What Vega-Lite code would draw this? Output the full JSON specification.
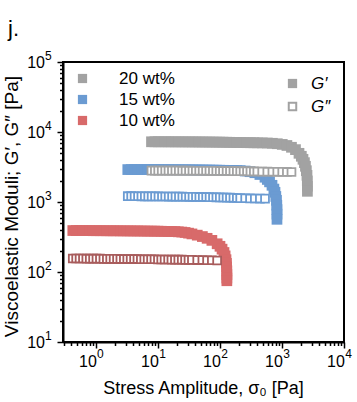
{
  "$schema": "https://vega.github.io/schema/vega-lite/v6.json",
  "width": 281,
  "height": 280,
  "autosize": {"type": "none"},
  "padding": {"left": 63, "top": 62, "right": 13, "bottom": 60},
  "title": {"text": "j.", "anchor": "start", "frame": "group", "dx": -55, "dy": 41, "fontSize": 22, "font": "Liberation Sans", "fontWeight": "normal", "baseline": "alphabetic", "offset": 32, "color": "black"},
  "config": {
    "view": {"stroke": "black", "strokeWidth": 2},
    "font": "Liberation Sans",
    "axis": {"grid": false, "labelColor": "black", "tickColor": "black", "domainColor": "black", "titleColor": "black", "labelFont": "Liberation Sans", "titleFont": "Liberation Sans"},
    "legend": {"labelFont": "Liberation Sans", "labelColor": "black"}
  },
  "data": {"values": [
    {"c": "10 wt%", "s": 0.423, "gp": 391, "gpp": 156},
    {"c": "10 wt%", "s": 0.48, "gp": 391, "gpp": 156},
    {"c": "10 wt%", "s": 0.545, "gp": 390, "gpp": 156},
    {"c": "10 wt%", "s": 0.618, "gp": 390, "gpp": 156},
    {"c": "10 wt%", "s": 0.70, "gp": 390, "gpp": 155},
    {"c": "10 wt%", "s": 0.795, "gp": 390, "gpp": 155},
    {"c": "10 wt%", "s": 0.90, "gp": 389, "gpp": 155},
    {"c": "10 wt%", "s": 1.02, "gp": 389, "gpp": 155},
    {"c": "10 wt%", "s": 1.16, "gp": 389, "gpp": 155},
    {"c": "10 wt%", "s": 1.32, "gp": 389, "gpp": 154},
    {"c": "10 wt%", "s": 1.50, "gp": 388, "gpp": 154},
    {"c": "10 wt%", "s": 1.70, "gp": 388, "gpp": 154},
    {"c": "10 wt%", "s": 1.93, "gp": 388, "gpp": 154},
    {"c": "10 wt%", "s": 2.19, "gp": 388, "gpp": 154},
    {"c": "10 wt%", "s": 2.48, "gp": 387, "gpp": 153},
    {"c": "10 wt%", "s": 2.82, "gp": 387, "gpp": 153},
    {"c": "10 wt%", "s": 3.20, "gp": 387, "gpp": 153},
    {"c": "10 wt%", "s": 3.63, "gp": 386, "gpp": 153},
    {"c": "10 wt%", "s": 4.12, "gp": 386, "gpp": 153},
    {"c": "10 wt%", "s": 4.67, "gp": 386, "gpp": 153},
    {"c": "10 wt%", "s": 5.30, "gp": 385, "gpp": 152},
    {"c": "10 wt%", "s": 6.02, "gp": 385, "gpp": 152},
    {"c": "10 wt%", "s": 6.83, "gp": 384, "gpp": 152},
    {"c": "10 wt%", "s": 7.75, "gp": 384, "gpp": 152},
    {"c": "10 wt%", "s": 8.8, "gp": 383, "gpp": 152},
    {"c": "10 wt%", "s": 10.0, "gp": 383, "gpp": 151},
    {"c": "10 wt%", "s": 11.3, "gp": 382, "gpp": 151},
    {"c": "10 wt%", "s": 12.8, "gp": 381, "gpp": 151},
    {"c": "10 wt%", "s": 14.6, "gp": 380, "gpp": 151},
    {"c": "10 wt%", "s": 16.5, "gp": 379, "gpp": 150},
    {"c": "10 wt%", "s": 18.8, "gp": 378, "gpp": 150},
    {"c": "10 wt%", "s": 21.3, "gp": 375, "gpp": 150},
    {"c": "10 wt%", "s": 24.2, "gp": 372, "gpp": 150},
    {"c": "10 wt%", "s": 27.4, "gp": 367, "gpp": 149},
    {"c": "10 wt%", "s": 31.1, "gp": 359, "gpp": 149},
    {"c": "10 wt%", "s": 35.3, "gp": 350, "gpp": 149},
    {"c": "10 wt%", "s": 43, "gp": 336, "gpp": 148},
    {"c": "10 wt%", "s": 52, "gp": 321, "gpp": 148},
    {"c": "10 wt%", "s": 62, "gp": 303, "gpp": 147},
    {"c": "10 wt%", "s": 74, "gp": 283, "gpp": 147},
    {"c": "10 wt%", "s": 90, "gp": 253, "gpp": 146},
    {"c": "10 wt%", "s": 100, "gp": 233, "gpp": null},
    {"c": "10 wt%", "s": 108, "gp": 212, "gpp": null},
    {"c": "10 wt%", "s": 116, "gp": 190, "gpp": null},
    {"c": "10 wt%", "s": 121, "gp": 170, "gpp": null},
    {"c": "10 wt%", "s": 125, "gp": 150, "gpp": null},
    {"c": "10 wt%", "s": 127, "gp": 133, "gpp": null},
    {"c": "10 wt%", "s": 128, "gp": 118, "gpp": null},
    {"c": "10 wt%", "s": 129, "gp": 104, "gpp": null},
    {"c": "10 wt%", "s": 129, "gp": 92, "gpp": null},
    {"c": "10 wt%", "s": 129, "gp": 82, "gpp": null},
    {"c": "10 wt%", "s": 129, "gp": 75, "gpp": null},
    {"c": "15 wt%", "s": 3.26, "gp": 2905, "gpp": 1210},
    {"c": "15 wt%", "s": 3.70, "gp": 2905, "gpp": 1210},
    {"c": "15 wt%", "s": 4.20, "gp": 2904, "gpp": 1208},
    {"c": "15 wt%", "s": 4.77, "gp": 2904, "gpp": 1207},
    {"c": "15 wt%", "s": 5.41, "gp": 2903, "gpp": 1206},
    {"c": "15 wt%", "s": 6.14, "gp": 2902, "gpp": 1205},
    {"c": "15 wt%", "s": 6.97, "gp": 2901, "gpp": 1204},
    {"c": "15 wt%", "s": 7.91, "gp": 2900, "gpp": 1203},
    {"c": "15 wt%", "s": 8.98, "gp": 2899, "gpp": 1202},
    {"c": "15 wt%", "s": 10.2, "gp": 2898, "gpp": 1200},
    {"c": "15 wt%", "s": 11.6, "gp": 2896, "gpp": 1199},
    {"c": "15 wt%", "s": 13.1, "gp": 2895, "gpp": 1198},
    {"c": "15 wt%", "s": 14.9, "gp": 2893, "gpp": 1196},
    {"c": "15 wt%", "s": 16.9, "gp": 2891, "gpp": 1195},
    {"c": "15 wt%", "s": 19.2, "gp": 2889, "gpp": 1194},
    {"c": "15 wt%", "s": 21.8, "gp": 2887, "gpp": 1192},
    {"c": "15 wt%", "s": 24.7, "gp": 2885, "gpp": 1190},
    {"c": "15 wt%", "s": 28.0, "gp": 2883, "gpp": 1189},
    {"c": "15 wt%", "s": 31.8, "gp": 2880, "gpp": 1187},
    {"c": "15 wt%", "s": 36.1, "gp": 2877, "gpp": 1185},
    {"c": "15 wt%", "s": 41.0, "gp": 2874, "gpp": 1183},
    {"c": "15 wt%", "s": 46.5, "gp": 2870, "gpp": 1181},
    {"c": "15 wt%", "s": 52.8, "gp": 2866, "gpp": 1179},
    {"c": "15 wt%", "s": 59.9, "gp": 2862, "gpp": 1176},
    {"c": "15 wt%", "s": 68.0, "gp": 2858, "gpp": 1173},
    {"c": "15 wt%", "s": 77.2, "gp": 2853, "gpp": 1170},
    {"c": "15 wt%", "s": 87.6, "gp": 2848, "gpp": 1167},
    {"c": "15 wt%", "s": 99.4, "gp": 2843, "gpp": 1164},
    {"c": "15 wt%", "s": 113, "gp": 2837, "gpp": 1160},
    {"c": "15 wt%", "s": 128, "gp": 2831, "gpp": 1156},
    {"c": "15 wt%", "s": 145, "gp": 2825, "gpp": 1152},
    {"c": "15 wt%", "s": 165, "gp": 2819, "gpp": 1147},
    {"c": "15 wt%", "s": 187, "gp": 2814, "gpp": 1142},
    {"c": "15 wt%", "s": 212, "gp": 2805, "gpp": 1137},
    {"c": "15 wt%", "s": 255, "gp": 2770, "gpp": 1130},
    {"c": "15 wt%", "s": 305, "gp": 2710, "gpp": 1125},
    {"c": "15 wt%", "s": 365, "gp": 2620, "gpp": 1122},
    {"c": "15 wt%", "s": 440, "gp": 2470, "gpp": 1120},
    {"c": "15 wt%", "s": 532, "gp": 2260, "gpp": 1118},
    {"c": "15 wt%", "s": 580, "gp": 2100, "gpp": null},
    {"c": "15 wt%", "s": 630, "gp": 1940, "gpp": null},
    {"c": "15 wt%", "s": 690, "gp": 1733, "gpp": null},
    {"c": "15 wt%", "s": 740, "gp": 1530, "gpp": null},
    {"c": "15 wt%", "s": 771, "gp": 1377, "gpp": null},
    {"c": "15 wt%", "s": 795, "gp": 1200, "gpp": null},
    {"c": "15 wt%", "s": 815, "gp": 1057, "gpp": null},
    {"c": "15 wt%", "s": 825, "gp": 900, "gpp": null},
    {"c": "15 wt%", "s": 830, "gp": 780, "gpp": null},
    {"c": "15 wt%", "s": 830, "gp": 670, "gpp": null},
    {"c": "15 wt%", "s": 830, "gp": 566, "gpp": null},
    {"c": "20 wt%", "s": 7.86, "gp": 7250, "gpp": 2810},
    {"c": "20 wt%", "s": 8.92, "gp": 7250, "gpp": 2810},
    {"c": "20 wt%", "s": 10.1, "gp": 7248, "gpp": 2810},
    {"c": "20 wt%", "s": 11.5, "gp": 7246, "gpp": 2809},
    {"c": "20 wt%", "s": 13.1, "gp": 7244, "gpp": 2808},
    {"c": "20 wt%", "s": 14.8, "gp": 7242, "gpp": 2807},
    {"c": "20 wt%", "s": 16.8, "gp": 7240, "gpp": 2806},
    {"c": "20 wt%", "s": 19.1, "gp": 7237, "gpp": 2805},
    {"c": "20 wt%", "s": 21.7, "gp": 7234, "gpp": 2804},
    {"c": "20 wt%", "s": 24.6, "gp": 7231, "gpp": 2803},
    {"c": "20 wt%", "s": 27.9, "gp": 7228, "gpp": 2802},
    {"c": "20 wt%", "s": 31.7, "gp": 7224, "gpp": 2800},
    {"c": "20 wt%", "s": 36.0, "gp": 7220, "gpp": 2798},
    {"c": "20 wt%", "s": 40.8, "gp": 7215, "gpp": 2796},
    {"c": "20 wt%", "s": 46.3, "gp": 7210, "gpp": 2794},
    {"c": "20 wt%", "s": 52.6, "gp": 7204, "gpp": 2792},
    {"c": "20 wt%", "s": 59.7, "gp": 7198, "gpp": 2790},
    {"c": "20 wt%", "s": 67.7, "gp": 7191, "gpp": 2788},
    {"c": "20 wt%", "s": 76.9, "gp": 7183, "gpp": 2785},
    {"c": "20 wt%", "s": 87.3, "gp": 7174, "gpp": 2782},
    {"c": "20 wt%", "s": 99.1, "gp": 7164, "gpp": 2779},
    {"c": "20 wt%", "s": 112, "gp": 7153, "gpp": 2776},
    {"c": "20 wt%", "s": 128, "gp": 7140, "gpp": 2772},
    {"c": "20 wt%", "s": 145, "gp": 7126, "gpp": 2768},
    {"c": "20 wt%", "s": 165, "gp": 7110, "gpp": 2764},
    {"c": "20 wt%", "s": 187, "gp": 7093, "gpp": 2759},
    {"c": "20 wt%", "s": 212, "gp": 7074, "gpp": 2754},
    {"c": "20 wt%", "s": 241, "gp": 7055, "gpp": 2749},
    {"c": "20 wt%", "s": 273, "gp": 7040, "gpp": 2743},
    {"c": "20 wt%", "s": 310, "gp": 7030, "gpp": 2737},
    {"c": "20 wt%", "s": 352, "gp": 7020, "gpp": 2731},
    {"c": "20 wt%", "s": 400, "gp": 7010, "gpp": 2725},
    {"c": "20 wt%", "s": 480, "gp": 6990, "gpp": 2718},
    {"c": "20 wt%", "s": 580, "gp": 6960, "gpp": 2712},
    {"c": "20 wt%", "s": 700, "gp": 6900, "gpp": 2706},
    {"c": "20 wt%", "s": 840, "gp": 6800, "gpp": 2700},
    {"c": "20 wt%", "s": 1010, "gp": 6650, "gpp": 2695},
    {"c": "20 wt%", "s": 1200, "gp": 6420, "gpp": 2690},
    {"c": "20 wt%", "s": 1422, "gp": 6050, "gpp": 2685},
    {"c": "20 wt%", "s": 1650, "gp": 5600, "gpp": null},
    {"c": "20 wt%", "s": 1880, "gp": 4960, "gpp": null},
    {"c": "20 wt%", "s": 2050, "gp": 4500, "gpp": null},
    {"c": "20 wt%", "s": 2180, "gp": 4075, "gpp": null},
    {"c": "20 wt%", "s": 2300, "gp": 3650, "gpp": null},
    {"c": "20 wt%", "s": 2390, "gp": 3236, "gpp": null},
    {"c": "20 wt%", "s": 2470, "gp": 2800, "gpp": null},
    {"c": "20 wt%", "s": 2530, "gp": 2404, "gpp": null},
    {"c": "20 wt%", "s": 2560, "gp": 2000, "gpp": null},
    {"c": "20 wt%", "s": 2570, "gp": 1680, "gpp": null},
    {"c": "20 wt%", "s": 2570, "gp": 1422, "gpp": null}
  ]},
  "resolve": {"axis": {"x": "independent", "y": "independent"}},
  "layer": [
    {
      "mark": {"type": "point", "shape": "square", "filled": true, "size": 115, "opacity": 1, "strokeWidth": 0},
      "encoding": {
        "x": {"field": "s", "type": "quantitative",
          "scale": {"type": "log", "domain": [0.294, 10000], "nice": false},
          "axis": {"orient": "bottom",
            "values": [0.3,0.4,0.5,0.6,0.7,0.8,0.9,1,2,3,4,5,6,7,8,9,10,20,30,40,50,60,70,80,90,100,200,300,400,500,600,700,800,900,1000,2000,3000,4000,5000,6000,7000,8000,9000,10000],
            "labelExpr": "indexof([1,10,100,1000,10000], datum.value) >= 0 ? '10' : ''",
            "tickSize": {"condition": {"test": "indexof([1,10,100,1000,10000], datum.value) >= 0", "value": 6}, "value": 3.5},
            "tickWidth": 1.5, "domainWidth": 2,
            "labelFontSize": 16, "labelOffset": -8.5, "labelPadding": 5,
            "labelOverlap": false, "labelFlush": false, "labelBound": false,
            "title": "Stress Amplitude, σ₀ [Pa]", "titleFontSize": 18, "titleFontWeight": "normal",
            "titleX": 140, "titleY": 51, "titleBaseline": "alphabetic", "titleAlign": "center"}},
        "y": {"field": "gp", "type": "quantitative",
          "scale": {"type": "log", "domain": [10, 100000], "nice": false},
          "axis": {"orient": "left",
            "values": [10,20,30,40,50,60,70,80,90,100,200,300,400,500,600,700,800,900,1000,2000,3000,4000,5000,6000,7000,8000,9000,10000,20000,30000,40000,50000,60000,70000,80000,90000,100000],
            "labelExpr": "indexof([10,100,1000,10000,100000], datum.value) >= 0 ? '10' : ''",
            "tickSize": {"condition": {"test": "indexof([10,100,1000,10000,100000], datum.value) >= 0", "value": 6}, "value": 3.5},
            "tickWidth": 1.5, "domainWidth": 2,
            "labelFontSize": 16, "labelPadding": 12.5,
            "labelOverlap": false, "labelFlush": false, "labelBound": false,
            "title": "Viscoelastic Moduli; G′, G″ [Pa]", "titleFontSize": 19, "titleFontWeight": "normal",
            "titleX": -52, "titleY": 144, "titleAngle": 270, "titleBaseline": "middle", "titleAlign": "center"}},
        "fill": {"field": "c", "type": "nominal",
          "scale": {"domain": ["20 wt%", "15 wt%", "10 wt%"], "range": ["#a2a2a2", "#6b9bd2", "#d86a6a"]},
          "legend": {"orient": "none", "legendX": 11, "legendY": 8, "title": null, "symbolType": "square", "symbolSize": 85, "symbolStrokeWidth": 0, "labelFontSize": 17, "rowPadding": 3, "labelOffset": 28, "padding": 0}},
        "shape": {"datum": "G′", "type": "nominal",
          "scale": {"domain": ["G′", "G″"], "range": ["square", "square"]},
          "legend": {"orient": "none", "legendX": 221, "legendY": 13, "title": null, "labelFontSize": 17, "labelFontStyle": "italic", "labelOffset": 10, "rowPadding": 5, "padding": 0,
            "symbolSize": 86, "symbolFillColor": "#a2a2a2", "symbolStrokeColor": "#a2a2a2", "symbolStrokeWidth": 0, "symbolOpacity": 1,
            "encode": {"symbols": {"update": {
              "fill": {"signal": "datum.value === 'G″' ? 'white' : '#a2a2a2'"},
              "stroke": {"value": "#a2a2a2"},
              "strokeWidth": {"signal": "datum.value === 'G″' ? 2 : 0"},
              "size": {"signal": "datum.value === 'G″' ? 56 : 86"}}}}}}
      }
    },
    {
      "transform": [{"filter": "datum.gpp != null"}],
      "mark": {"type": "point", "shape": "square", "fill": "white", "strokeWidth": 1.8, "size": 62, "opacity": 1},
      "encoding": {
        "x": {"field": "s", "type": "quantitative",
          "axis": {"orient": "bottom", "values": [1,10,100,1000,10000], "ticks": false, "domain": false,
            "labelExpr": "'' + round(log(datum.value) / LN10)",
            "labelFontSize": 12, "labelOffset": 4, "labelPadding": 6.5,
            "labelOverlap": false, "labelFlush": false, "labelBound": false, "title": null}},
        "y": {"field": "gpp", "type": "quantitative",
          "axis": {"orient": "left", "values": [10,100,1000,10000,100000], "ticks": false, "domain": false,
            "labelExpr": "'' + round(log(datum.value) / LN10)",
            "labelFontSize": 12, "labelAlign": "left", "labelOffset": -7, "labelPadding": 18.5,
            "labelOverlap": false, "labelFlush": false, "labelBound": false, "title": null}},
        "stroke": {"field": "c", "type": "nominal",
          "scale": {"domain": ["20 wt%", "15 wt%", "10 wt%"], "range": ["#a2a2a2", "#6b9bd2", "#a85c5c"]},
          "legend": null}
      }
    }
  ]
}
